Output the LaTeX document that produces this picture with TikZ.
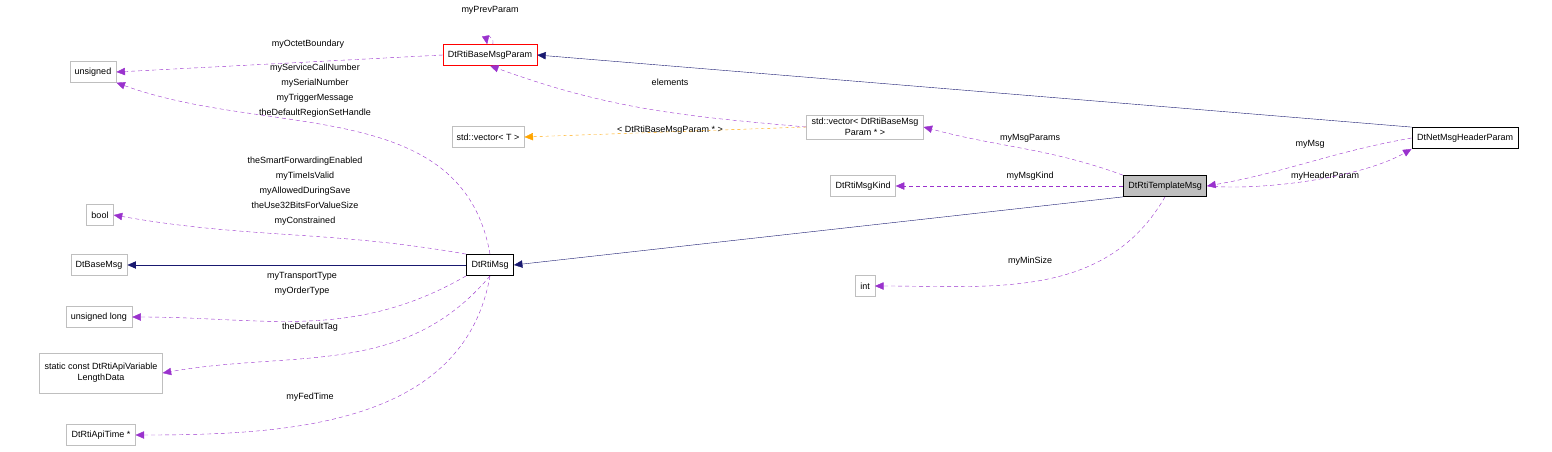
\documentclass[tikz,border=0pt]{standalone}
\usepackage{fontspec}
\setmainfont{Liberation Sans}
\usetikzlibrary{arrows.meta,positioning}
\definecolor{edgeblue}{HTML}{191970}
\definecolor{edgepurple}{HTML}{9A32CD}
\definecolor{edgeorange}{HTML}{FFA500}
\definecolor{boxgray}{HTML}{BFBFBF}
\tikzset{>={Triangle[width=2.6mm,length=3mm]}}

\begin{document}
\begin{tikzpicture}[x=1pt,y=-1pt,font=\fontsize{9}{11}\selectfont]
  \useasboundingbox (0,0) rectangle (1552,452);

  \tikzstyle{gnode} = [draw=boxgray, rectangle, inner xsep=5pt, minimum height=21pt, align=center]
  \tikzstyle{bnode} = [gnode, draw=black, thick]
  \tikzstyle{lbl} = [inner sep=0pt, align=center, font=\fontsize{9}{15}\selectfont]
  \tikzstyle{dep} = [->, dashed, edgepurple, dash pattern=on 4pt off 3pt]
  \tikzstyle{inh} = [->, edgeblue]

  % classes
  \node[gnode] (uns) at (93,72) {unsigned};
  \node[gnode, draw=red] (pbase) at (490,55) {DtRtiBaseMsgParam};
  \node[gnode] (vect) at (488,137) {std::vector< T >};
  \node[gnode] (vpar) at (865,127) {std::vector< DtRtiBaseMsg\\Param * >};
  \node[bnode] (hdr) at (1465,138) {DtNetMsgHeaderParam};
  \node[gnode] (kind) at (863,186) {DtRtiMsgKind};
  \node[gnode, draw=black, fill=boxgray, thick] (tmpl) at (1165,186) {DtRtiTemplateMsg};
  \node[gnode] (bool) at (100,215) {bool};
  \node[gnode] (bmsg) at (99,265) {DtBaseMsg};
  \node[bnode] (rmsg) at (490,265) {DtRtiMsg};
  \node[gnode] (int) at (865,286) {int};
  \node[gnode] (ulong) at (99,317) {unsigned long};
  \node[gnode, minimum height=40pt] (vldata) at (101,373) {static const DtRtiApiVariable\\LengthData};
  \node[gnode] (atime) at (101,435) {DtRtiApiTime *};

  % labels
  \node[lbl] (l1) at (308,44) {myOctetBoundary};
  \node[lbl] (l2) at (490,10) {myPrevParam};
  \node[lbl] (l3) at (670,82) {elements};
  \node[lbl] (l4) at (670,130) {< DtRtiBaseMsgParam * >};
  \node[lbl] (l5) at (1030,138) {myMsgParams};
  \node[lbl] (l6) at (1030,176) {myMsgKind};
  \node[lbl] (l7) at (1310,144) {myMsg};
  \node[lbl] (l8) at (1325,176) {myHeaderParam};
  \node[lbl] (l9) at (1030,261) {myMinSize};
  \node[lbl] (l10) at (315,91) {myServiceCallNumber\\mySerialNumber\\myTriggerMessage\\theDefaultRegionSetHandle};
  \node[lbl] (l11) at (305,191) {theSmartForwardingEnabled\\myTimeIsValid\\myAllowedDuringSave\\theUse32BitsForValueSize\\myConstrained};
  \node[lbl] (l12) at (302,284) {myTransportType\\myOrderType};
  \node[lbl] (l13) at (310,327) {theDefaultTag};
  \node[lbl] (l14) at (310,397) {myFedTime};

  % edges
  \draw[dep] (pbase.west) -- (uns.east);
  \draw[dep] (pbase.75) to[out=80,in=100,looseness=4] (pbase.105);
  \draw[dep] (vpar.west) to[out=175,in=-20] (pbase.south);
  \draw[->, dashed, edgeorange] (vpar.west) -- (vect.east);
  \draw[inh] (hdr.north west) -- (pbase.east);
  \draw[dep] (tmpl.north west) to[out=160,in=-15] (vpar.east);
  \draw[dep] (tmpl.west) -- (kind.east);
  \draw[dep] (hdr.west) to[out=190,in=10] (tmpl.east);
  \draw[dep] (tmpl.east) to[out=-5,in=-150,looseness=0.7] (hdr.south west);
  \draw[inh] (tmpl.south west) -- (rmsg.east);
  \draw[dep] (tmpl.south) to[out=-120,in=0] (int.east);
  \draw[dep] (rmsg.north) to[out=100,in=-20] (uns.south east);
  \draw[dep] (rmsg.north west) to[out=170,in=-10] (bool.east);
  \draw[inh] (rmsg.west) -- (bmsg.east);
  \draw[dep] (rmsg.south west) to[out=-150,in=0] (ulong.east);
  \draw[dep] (rmsg.south) to[out=-130,in=10] (vldata.east);
  \draw[dep] (rmsg.south) to[out=-100,in=0] (atime.east);
\end{tikzpicture}
\end{document}
